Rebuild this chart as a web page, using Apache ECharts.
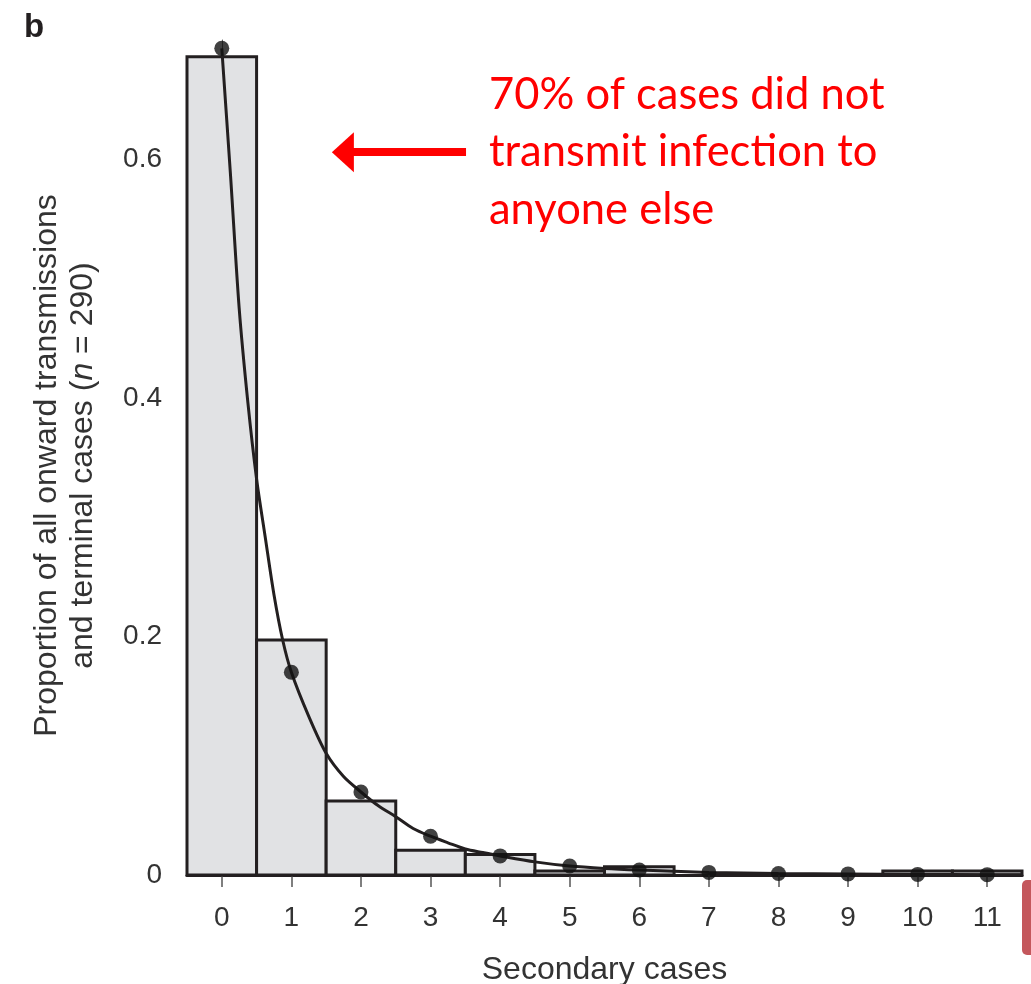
<!DOCTYPE html>
<html>
<head>
<meta charset="utf-8">
<script src="https://cdn.jsdelivr.net/npm/echarts@6/dist/echarts.min.js"></script>
<style>
html,body{margin:0;padding:0;background:#fff;}
#chart{width:1031px;height:984px;}
</style>
</head>
<body>
<div id="chart"></div>
<script>
// Data
const xTicks = [0,1,2,3,4,5,6,7,8,9,10,11];
const observed = [0.686, 0.197, 0.062, 0.0207, 0.0172, 0.0034, 0.0069, 0, 0, 0, 0.0034, 0.0034];
const fitted = [0.693, 0.170, 0.0696, 0.0325, 0.016, 0.0075, 0.0042, 0.0022, 0.0013, 0.0009, 0.0005, 0.0003];
const curveX = [0, 0.125, 0.25, 0.375, 0.5, 0.625, 0.75, 0.875, 1, 1.25, 1.5, 1.75, 2, 2.25, 2.5, 2.75, 3, 3.25, 3.5, 3.75, 4, 4.5, 5, 5.5, 6, 7, 8, 9, 10, 11, 11.5];
const curveY = [0.693, 0.587, 0.475, 0.396, 0.332, 0.283, 0.235, 0.197, 0.170, 0.133, 0.102, 0.0825, 0.0696, 0.058, 0.0489, 0.039, 0.0325, 0.027, 0.0218, 0.0188, 0.016, 0.011, 0.0075, 0.0055, 0.0042, 0.0022, 0.0013, 0.0009, 0.0005, 0.0003, 0.0002];
const yTicks = [0, 0.2, 0.4, 0.6];
const annotationLines = ['70% of cases did not', 'transmit infection to', 'anyone else'];
const arrowFrom = [3.51, 0.606];
const arrowTo = [1.74, 0.606];

const chart = echarts.init(document.getElementById('chart'), null, {renderer: 'canvas'});
const ink = '#231f20';
const labelColor = '#333';
const font = 'Liberation Sans, Arial, sans-serif';

const option = {
  animation: false,
  backgroundColor: '#fff',
  grid: {left: 187, right: 9, top: 40, bottom: 109, containLabel: false, outerBoundsMode: 'none'},
  xAxis: {
    type: 'value', min: -0.5, max: 11.5,
    name: 'Secondary cases', nameLocation: 'middle', nameGap: 79,
    nameTextStyle: {fontFamily: font, fontSize: 32, color: labelColor},
    axisLine: {show: true, onZero: false, lineStyle: {color: ink, width: 3}},
    axisTick: {show: true, length: 12, lineStyle: {color: '#555', width: 1.5},
      customValues: xTicks},
    axisLabel: {fontFamily: font, fontSize: 28, color: labelColor, margin: 29,
      customValues: xTicks, formatter: v => String(v)},
    splitLine: {show: false}
  },
  yAxis: {
    type: 'value', min: 0, max: 0.7,
    name: 'Proportion of all onward transmissions\nand terminal cases ({i|n} = 290)',
    nameLocation: 'middle', nameGap: 86, nameRotate: 90,
    nameTextStyle: {fontFamily: font, fontSize: 32, color: labelColor, lineHeight: 36, align: 'center',
      padding: [0, 16, 0, 0],
      rich: {i: {fontFamily: font, fontSize: 32, lineHeight: 36, fontStyle: 'italic', color: labelColor}}},
    axisLine: {show: true, lineStyle: {color: '#666', width: 1}},
    axisTick: {show: true, length: 12, lineStyle: {color: '#444', width: 1.5}, customValues: yTicks},
    axisLabel: {fontFamily: font, fontSize: 28, color: labelColor, margin: 25, customValues: yTicks,
      formatter: v => v === 0 ? '0' : v.toFixed(1)},
    splitLine: {show: false}
  },
  graphic: [
    {type: 'text', left: 24, top: 11, style: {text: 'b', fontFamily: font, fontWeight: 'bold', fontSize: 33, fill: '#231f20'}},
    {type: 'text', left: 489, top: 66, style: {text: annotationLines.join('\n'), fontFamily: 'Lato, sans-serif', fontSize: 43.5, lineHeight: 57.5, fill: '#ff0000'}},
    {type: 'rect', left: 1022, top: 880, shape: {width: 20, height: 75, r: 5}, style: {fill: '#c4575c'}}
  ],
  series: [
    {
      type: 'custom',
      name: 'observed',
      data: xTicks.map((x, i) => [x, observed[i]]),
      renderItem: function (params, api) {
        const x = api.value(0), y = api.value(1);
        if (y <= 0) return null;
        const p0 = api.coord([x - 0.5, y]);
        const p1 = api.coord([x + 0.5, 0]);
        return {
          type: 'rect',
          shape: {x: p0[0], y: p0[1], width: p1[0] - p0[0], height: p1[1] - p0[1]},
          style: {fill: '#e1e2e4', stroke: ink, lineWidth: 3}
        };
      },
      z: 2
    },
    {
      type: 'line',
      name: 'curve',
      data: curveX.map((x, i) => [x, curveY[i]]),
      smooth: 0.3,
      showSymbol: false,
      lineStyle: {color: ink, width: 3},
      z: 3
    },
    {
      type: 'scatter',
      name: 'fitted',
      data: xTicks.map((x, i) => [x, fitted[i]]),
      symbolSize: 15,
      itemStyle: {color: '#111'},
      z: 4,
      markLine: {
        silent: true,
        symbol: ['none', 'triangle'],
        symbolSize: [40, 22],
        label: {show: false},
        lineStyle: {color: '#ff0000', width: 8, type: 'solid'},
        data: [[{coord: arrowFrom}, {coord: arrowTo}]]
      }
    }
  ]
};
chart.setOption(option);
</script>
</body>
</html>
